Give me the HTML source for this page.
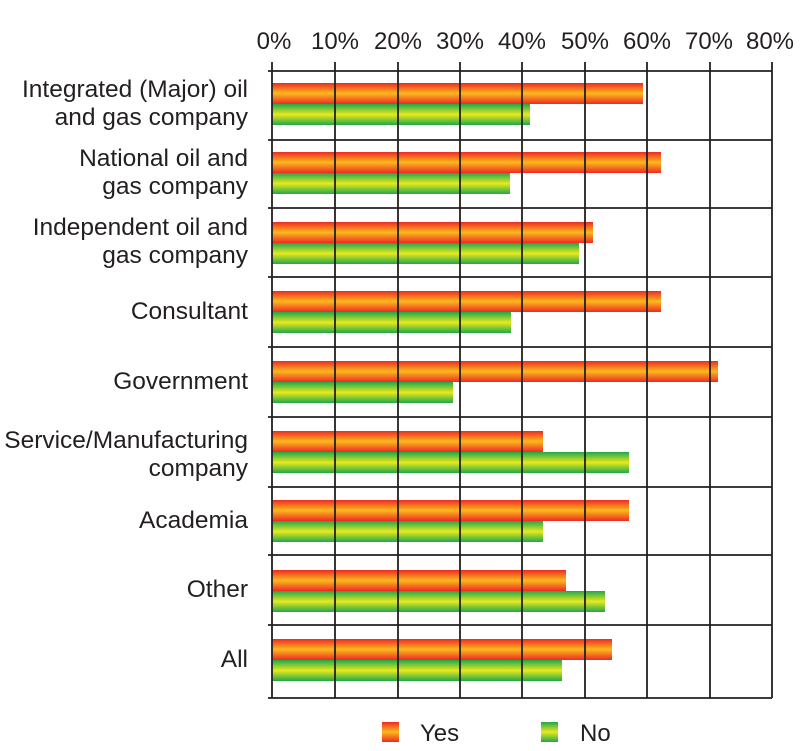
<!DOCTYPE html>
<html><head><style>html,body{margin:0;padding:0;background:#fff;}svg{display:block;}</style></head>
<body>
<svg width="800" height="751" xmlns="http://www.w3.org/2000/svg" font-family="Liberation Sans, sans-serif" fill="#231f20">
<defs>
<linearGradient id="y" x1="0" y1="0" x2="0" y2="1">
<stop offset="0" stop-color="#ee2a24"/><stop offset="0.5" stop-color="#fbb91c"/><stop offset="1" stop-color="#ee2a24"/>
</linearGradient>
<linearGradient id="n" x1="0" y1="0" x2="0" y2="1">
<stop offset="0" stop-color="#1fa84a"/><stop offset="0.5" stop-color="#e8e91e"/><stop offset="1" stop-color="#1fa84a"/>
</linearGradient>
</defs>
<g font-size="24" text-anchor="middle">
<text x="274" y="49">0%</text><text x="335" y="49">10%</text><text x="398" y="49">20%</text><text x="460" y="49">30%</text><text x="522" y="49">40%</text><text x="585" y="49">50%</text><text x="647" y="49">60%</text><text x="709" y="49">70%</text><text x="770" y="49">80%</text>
</g>
<g id="bars">
<rect x="272" y="83" width="371" height="21" fill="url(#y)"/><rect x="272" y="104" width="258" height="21" fill="url(#n)"/>
<rect x="272" y="152" width="389" height="21" fill="url(#y)"/><rect x="272" y="173" width="238" height="21" fill="url(#n)"/>
<rect x="272" y="222" width="321" height="21" fill="url(#y)"/><rect x="272" y="243" width="307" height="21" fill="url(#n)"/>
<rect x="272" y="291" width="389" height="21" fill="url(#y)"/><rect x="272" y="312" width="239" height="21" fill="url(#n)"/>
<rect x="272" y="361" width="446" height="21" fill="url(#y)"/><rect x="272" y="382" width="181" height="21" fill="url(#n)"/>
<rect x="272" y="431" width="271" height="21" fill="url(#y)"/><rect x="272" y="452" width="357" height="21" fill="url(#n)"/>
<rect x="272" y="500" width="357" height="21" fill="url(#y)"/><rect x="272" y="521" width="271" height="21" fill="url(#n)"/>
<rect x="272" y="570" width="294" height="21" fill="url(#y)"/><rect x="272" y="591" width="333" height="21" fill="url(#n)"/>
<rect x="272" y="639" width="340" height="21" fill="url(#y)"/><rect x="272" y="660" width="290" height="21" fill="url(#n)"/>
</g>
<g stroke="#231f20" stroke-width="1.8">
<line x1="272" y1="62" x2="272" y2="698"/><line x1="335" y1="62" x2="335" y2="698"/><line x1="398" y1="62" x2="398" y2="698"/><line x1="460" y1="62" x2="460" y2="698"/><line x1="522" y1="62" x2="522" y2="698"/><line x1="585" y1="62" x2="585" y2="698"/><line x1="647" y1="62" x2="647" y2="698"/><line x1="710" y1="62" x2="710" y2="698"/><line x1="772" y1="62" x2="772" y2="698"/>
<line x1="268" y1="71" x2="772" y2="71"/><line x1="268" y1="140" x2="772" y2="140"/><line x1="268" y1="208" x2="772" y2="208"/><line x1="268" y1="277" x2="772" y2="277"/><line x1="268" y1="347" x2="772" y2="347"/><line x1="268" y1="417" x2="772" y2="417"/><line x1="268" y1="487" x2="772" y2="487"/><line x1="268" y1="555" x2="772" y2="555"/><line x1="268" y1="625" x2="772" y2="625"/><line x1="268" y1="698" x2="772" y2="698"/>
</g>
<g font-size="24.5" text-anchor="end">
<text x="248" y="97">Integrated (Major) oil</text><text x="248" y="125">and gas company</text>
<text x="248" y="166">National oil and</text><text x="248" y="194">gas company</text>
<text x="248" y="235">Independent oil and</text><text x="248" y="263">gas company</text>
<text x="248" y="319">Consultant</text>
<text x="248" y="389">Government</text>
<text x="248" y="448">Service/Manufacturing</text><text x="248" y="476">company</text>
<text x="248" y="528">Academia</text>
<text x="248" y="597">Other</text>
<text x="248" y="667">All</text>
</g>
<rect x="382" y="722" width="17" height="20" fill="url(#y)"/>
<text x="420" y="741" font-size="24">Yes</text>
<rect x="541" y="722" width="17" height="20" fill="url(#n)"/>
<text x="580" y="741" font-size="24">No</text>
</svg>
</body></html>
